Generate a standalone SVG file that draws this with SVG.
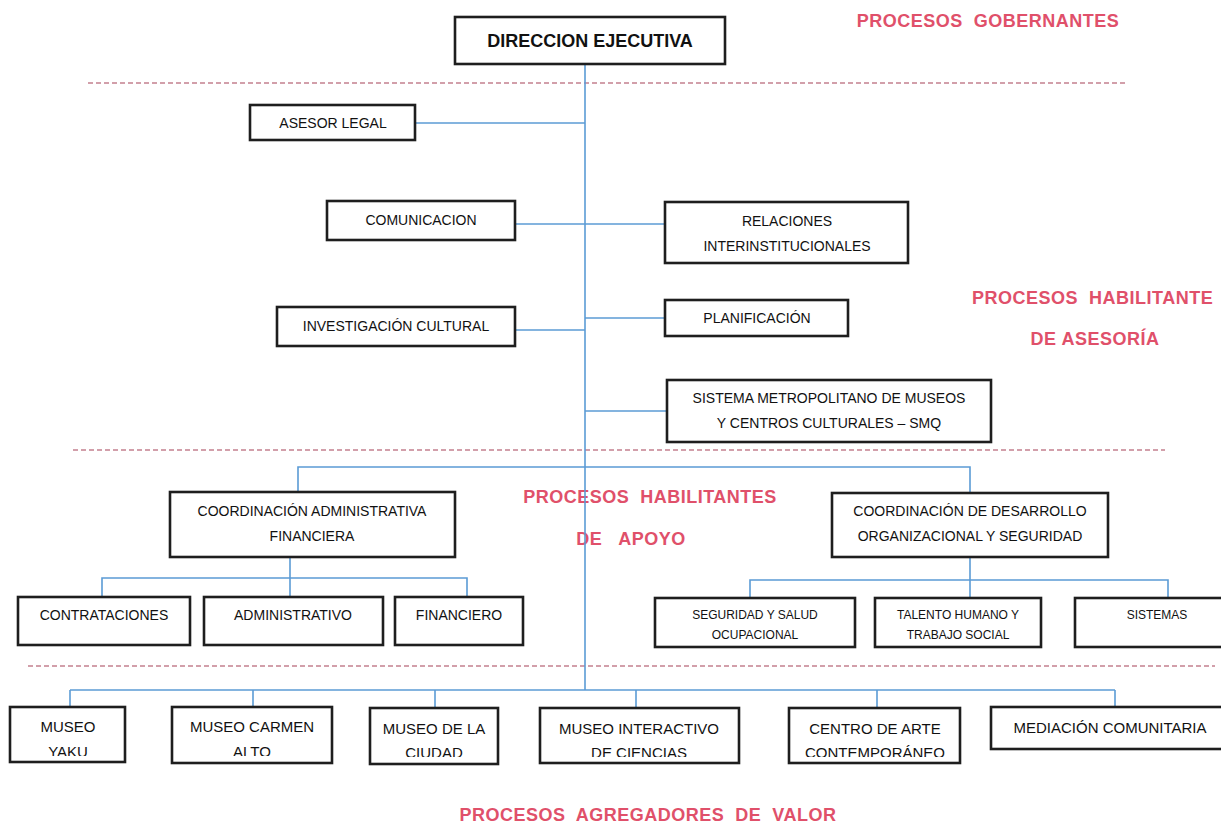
<svg xmlns="http://www.w3.org/2000/svg" width="1221" height="823" viewBox="0 0 1221 823">
<style>
.box{fill:#fff;stroke:#1e1e1e;stroke-width:2.6}
.t{font-family:"Liberation Sans",Arial,sans-serif;font-size:14px;fill:#111;text-anchor:middle}
.tm{font-family:"Liberation Sans",Arial,sans-serif;font-size:15px;fill:#111;text-anchor:middle}
.ts{font-family:"Liberation Sans",Arial,sans-serif;font-size:12px;fill:#111;text-anchor:middle}
.tb{font-family:"Liberation Sans",Arial,sans-serif;font-size:18px;font-weight:bold;fill:#111;text-anchor:middle}
.red{font-family:"Liberation Sans",Arial,sans-serif;font-size:18px;font-weight:bold;fill:#e0506a;text-anchor:middle;white-space:pre;letter-spacing:0.5px}
.con{fill:none;stroke:#5b9bd5;stroke-width:1.6}
.dash{fill:none;stroke:#c4808e;stroke-width:1.4;stroke-dasharray:5 3}
</style>
<defs>
<clipPath id="c1"><rect x="10" y="707" width="115" height="49"/></clipPath>
<clipPath id="c2"><rect x="172" y="707" width="160" height="49"/></clipPath>
<clipPath id="c3"><rect x="370" y="708" width="128" height="49"/></clipPath>
<clipPath id="c4"><rect x="540" y="708" width="199" height="49"/></clipPath>
<clipPath id="c5"><rect x="789" y="708" width="171" height="49"/></clipPath>
</defs>
<rect width="1221" height="823" fill="#fff"/>
<g id="separators">
<line class="dash" x1="88" y1="83" x2="1125" y2="83"/>
<line class="dash" x1="73" y1="450" x2="1165" y2="450"/>
<line class="dash" x1="28" y1="666" x2="1215" y2="666"/>
</g>
<g id="labels">
<text class="red" xml:space="preserve" x="988" y="27">PROCESOS  GOBERNANTES</text>
<text class="red" xml:space="preserve" x="972" y="304" style="text-anchor:start">PROCESOS  HABILITANTE</text>
<text class="red" xml:space="preserve" x="1095" y="345">DE ASESORÍA</text>
<text class="red" xml:space="preserve" x="650" y="503">PROCESOS  HABILITANTES</text>
<text class="red" xml:space="preserve" x="631" y="545">DE   APOYO</text>
<text class="red" xml:space="preserve" x="648" y="821">PROCESOS  AGREGADORES  DE  VALOR</text>
</g>
<g id="connectors">
<line class="con" x1="585" y1="64" x2="585" y2="690"/>
<line class="con" x1="415" y1="123" x2="585" y2="123"/>
<line class="con" x1="515" y1="224" x2="665" y2="224"/>
<line class="con" x1="515" y1="330" x2="585" y2="330"/>
<line class="con" x1="585" y1="318" x2="665" y2="318"/>
<line class="con" x1="585" y1="411" x2="667" y2="411"/>
<polyline class="con" points="298,492 298,467 970,467 970,493"/>
<line class="con" x1="290" y1="557" x2="290" y2="597"/>
<polyline class="con" points="102,597 102,578 467,578 467,597"/>
<line class="con" x1="970" y1="557" x2="970" y2="598"/>
<polyline class="con" points="750,598 750,580 1168,580 1168,598"/>
<line class="con" x1="70" y1="690" x2="1115" y2="690"/>
<line class="con" x1="70" y1="690" x2="70" y2="707"/>
<line class="con" x1="253" y1="690" x2="253" y2="707"/>
<line class="con" x1="435" y1="690" x2="435" y2="708"/>
<line class="con" x1="636" y1="690" x2="636" y2="708"/>
<line class="con" x1="877" y1="690" x2="877" y2="708"/>
<line class="con" x1="1115" y1="690" x2="1115" y2="707"/>
</g>
<g id="n-direccion"><rect class="box" x="455" y="17" width="270" height="47"/><text class="tb" x="590" y="47">DIRECCION EJECUTIVA</text></g>
<g id="n-asesor"><rect class="box" x="250" y="105" width="165" height="35"/><text class="t" x="333" y="128">ASESOR LEGAL</text></g>
<g id="n-comunicacion"><rect class="box" x="327" y="201" width="188" height="39"/><text class="t" x="421" y="225">COMUNICACION</text></g>
<g id="n-relaciones"><rect class="box" x="665" y="202" width="243" height="61"/><text class="t" x="787" y="226">RELACIONES</text><text class="t" x="787" y="251">INTERINSTITUCIONALES</text></g>
<g id="n-investigacion"><rect class="box" x="277" y="307" width="238" height="39"/><text class="t" x="396" y="331">INVESTIGACIÓN CULTURAL</text></g>
<g id="n-planificacion"><rect class="box" x="665" y="300" width="183" height="36"/><text class="t" x="757" y="323">PLANIFICACIÓN</text></g>
<g id="n-smq"><rect class="box" x="667" y="380" width="324" height="62"/><text class="t" x="829" y="403">SISTEMA METROPOLITANO DE MUSEOS</text><text class="t" x="829" y="428">Y CENTROS CULTURALES – SMQ</text></g>
<g id="n-caf"><rect class="box" x="170" y="492" width="285" height="65"/><text class="t" x="312" y="516">COORDINACIÓN ADMINISTRATIVA</text><text class="t" x="312" y="541">FINANCIERA</text></g>
<g id="n-cdos"><rect class="box" x="832" y="493" width="276" height="64"/><text class="t" x="970" y="516">COORDINACIÓN DE DESARROLLO</text><text class="t" x="970" y="541">ORGANIZACIONAL Y SEGURIDAD</text></g>
<g id="n-contrataciones"><rect class="box" x="18" y="597" width="172" height="48"/><text class="t" x="104" y="620">CONTRATACIONES</text></g>
<g id="n-administrativo"><rect class="box" x="204" y="597" width="179" height="48"/><text class="t" x="293" y="620">ADMINISTRATIVO</text></g>
<g id="n-financiero"><rect class="box" x="395" y="597" width="128" height="48"/><text class="t" x="459" y="620">FINANCIERO</text></g>
<g id="n-seguridad"><rect class="box" x="655" y="598" width="200" height="49"/><text class="ts" x="755" y="619">SEGURIDAD Y SALUD</text><text class="ts" x="755" y="639">OCUPACIONAL</text></g>
<g id="n-talento"><rect class="box" x="875" y="598" width="166" height="49"/><text class="ts" x="958" y="619">TALENTO HUMANO Y</text><text class="ts" x="958" y="639">TRABAJO SOCIAL</text></g>
<g id="n-sistemas"><rect class="box" x="1075" y="598" width="160" height="49"/><text class="ts" x="1157" y="619">SISTEMAS</text></g>
<g id="n-yaku"><rect class="box" x="10" y="707" width="115" height="55"/><g clip-path="url(#c1)"><text class="tm" x="68" y="732">MUSEO</text><text class="tm" x="68" y="757">YAKU</text></g></g>
<g id="n-carmen"><rect class="box" x="172" y="707" width="160" height="56"/><g clip-path="url(#c2)"><text class="tm" x="252" y="732">MUSEO CARMEN</text><text class="tm" x="252" y="757">ALTO</text></g></g>
<g id="n-ciudad"><rect class="box" x="370" y="708" width="128" height="56"/><g clip-path="url(#c3)"><text class="tm" x="434" y="734">MUSEO DE LA</text><text class="tm" x="434" y="758">CIUDAD</text></g></g>
<g id="n-interactivo"><rect class="box" x="540" y="708" width="199" height="55"/><g clip-path="url(#c4)"><text class="tm" x="639" y="734">MUSEO INTERACTIVO</text><text class="tm" x="639" y="758">DE CIENCIAS</text></g></g>
<g id="n-arte"><rect class="box" x="789" y="708" width="171" height="55"/><g clip-path="url(#c5)"><text class="tm" x="875" y="734">CENTRO DE ARTE</text><text class="tm" x="875" y="758">CONTEMPORÁNEO</text></g></g>
<g id="n-mediacion"><rect class="box" x="991" y="707" width="240" height="42"/><text class="tm" x="1110" y="733">MEDIACIÓN COMUNITARIA</text></g>
</svg>
